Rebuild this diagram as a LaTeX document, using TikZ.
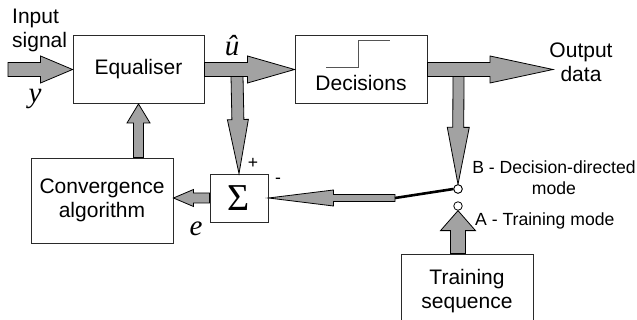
\documentclass[tikz,border=0pt]{standalone}
\usepackage{fontspec}
\setmainfont{Liberation Sans}
\newfontfamily\symfont{Liberation Serif}
\usetikzlibrary{positioning, calc}
\definecolor{cFat}{HTML}{A2A2A2}
\definecolor{cEdge}{HTML}{2A2A2A}
\definecolor{cStep}{HTML}{555555}

% fat block arrow: [opts]{from}{to}{shaft half-width}{head half-width}{head length}
\newcommand{\fatarrow}[6][]{%
  \draw[fat,#1] let \p1=#2, \p2=#3,
    \n1={veclen(\x2-\x1,\y2-\y1)}, \n2={(\x2-\x1)/\n1}, \n3={(\y2-\y1)/\n1}, \n4={\n1-#6}
  in ({\x1-#4*\n3*1pt},{\y1+#4*\n2*1pt})
  -- ({\x1+\n4*\n2*1pt-#4*\n3*1pt},{\y1+\n4*\n3*1pt+#4*\n2*1pt})
  -- ({\x1+\n4*\n2*1pt-#5*\n3*1pt},{\y1+\n4*\n3*1pt+#5*\n2*1pt})
  -- (\p2)
  -- ({\x1+\n4*\n2*1pt+#5*\n3*1pt},{\y1+\n4*\n3*1pt-#5*\n2*1pt})
  -- ({\x1+\n4*\n2*1pt+#4*\n3*1pt},{\y1+\n4*\n3*1pt-#4*\n2*1pt})
  -- ({\x1+#4*\n3*1pt},{\y1-#4*\n2*1pt}) -- cycle;}

\begin{document}
\begin{tikzpicture}[x=1pt, y=-1pt,
  every node/.style={font=\fontsize{21}{24}\selectfont},
  box/.style={draw=cEdge, fill=white, align=center, inner sep=0pt, line width=0.9pt},
  fat/.style={draw=black, fill=cFat, line width=0.8pt, line join=miter},
  lbl/.style={font=\fontsize{17.6}{21}\selectfont, inner sep=0pt},
  sym/.style={font=\symfont\itshape\fontsize{29}{30}\selectfont, inner sep=0pt},
  port/.style={circle, draw=black, fill=white, inner sep=0pt, minimum size=8.5pt, line width=0.8pt}
]
\useasboundingbox (0,0) rectangle (637,320);

% blocks
\node[box, minimum width=131, minimum height=68] (eq) at (138.5,69.5) {Equaliser};
\node[box, minimum width=132, minimum height=68] (dec) at (361,69.5) {};
\node[inner sep=0pt] (dectxt) at (361,83) {Decisions};
\node[box, minimum width=58, minimum height=48, font=\symfont\fontsize{38}{38}\selectfont] (sig) at (239,198) {Σ};
\node[box, minimum width=142, minimum height=85] (conv) at (102,200.5) {Convergence\\algorithm};
\node[box, minimum width=132, minimum height=74] (train) at (467,291) {Training\\sequence};

% hard decision step
\draw[cStep, line width=0.9pt] ($(dec.center)+(-35,-2)$) -- ($(dec.center)+(-3,-2)$)
  -- ($(dec.center)+(-3,-29)$) -- ($(dec.center)+(29,-29)$);

% switch contacts
\node[port] (swB) at (458,189) {};
\node[port] (swA) at (458,206) {};
\coordinate (swpivot) at (395,198);
\coordinate (yin) at (8,69.5);
\coordinate (dout) at (553,69.5);
\coordinate (ubr) at (237,76);
\coordinate (dbr) at (458.5,76);

% branches first, main path on top
\fatarrow{(ubr)}{(sig.north)}{6}{10.5}{54}
\fatarrow{(dbr)}{(swB.north)}{5.5}{11}{57}
\fatarrow{(yin)}{(eq.west)}{7}{13.5}{32}
\fatarrow{(eq.east)}{(dec.west)}{7}{13.5}{47}
\fatarrow{(dec.east)}{(dout)}{7}{13.5}{63}
\fatarrow{(conv.north -| eq.south)}{(eq.south)}{5}{11.5}{19}
\fatarrow{(sig.west)}{(sig.west -| conv.east)}{5}{8.5}{20}
\fatarrow{(swpivot)}{(sig.east)}{3.5}{8}{65}
\fatarrow{(train.north -| swA)}{(swA.south)}{7.5}{17.5}{20}

% switch blade
\draw[line width=2.6pt, black] (swpivot) -- (swB.west);
\node[port] at (swB) {};

% labels
\node[align=left, anchor=west, inner sep=0pt] (inlbl) at (12,30) {Input\\signal};
\node[sym] (ylbl) at (35,99) {y};
\node[sym] (ulbl) at (232,46) {û};
\node[align=center, inner sep=0pt] (outlbl) at (581,62) {Output\\data};
\node[lbl] (plus) at (253,163) {+};
\node[lbl] (minus) at (278,181) {-};
\node[sym] (elbl) at (196,229) {e};
\node[lbl, align=center] (Blbl) at (554,178) {B - Decision-directed\\mode};
\node[lbl, anchor=west] (Albl) at (475,221) {A - Training mode};
\end{tikzpicture}
\end{document}
